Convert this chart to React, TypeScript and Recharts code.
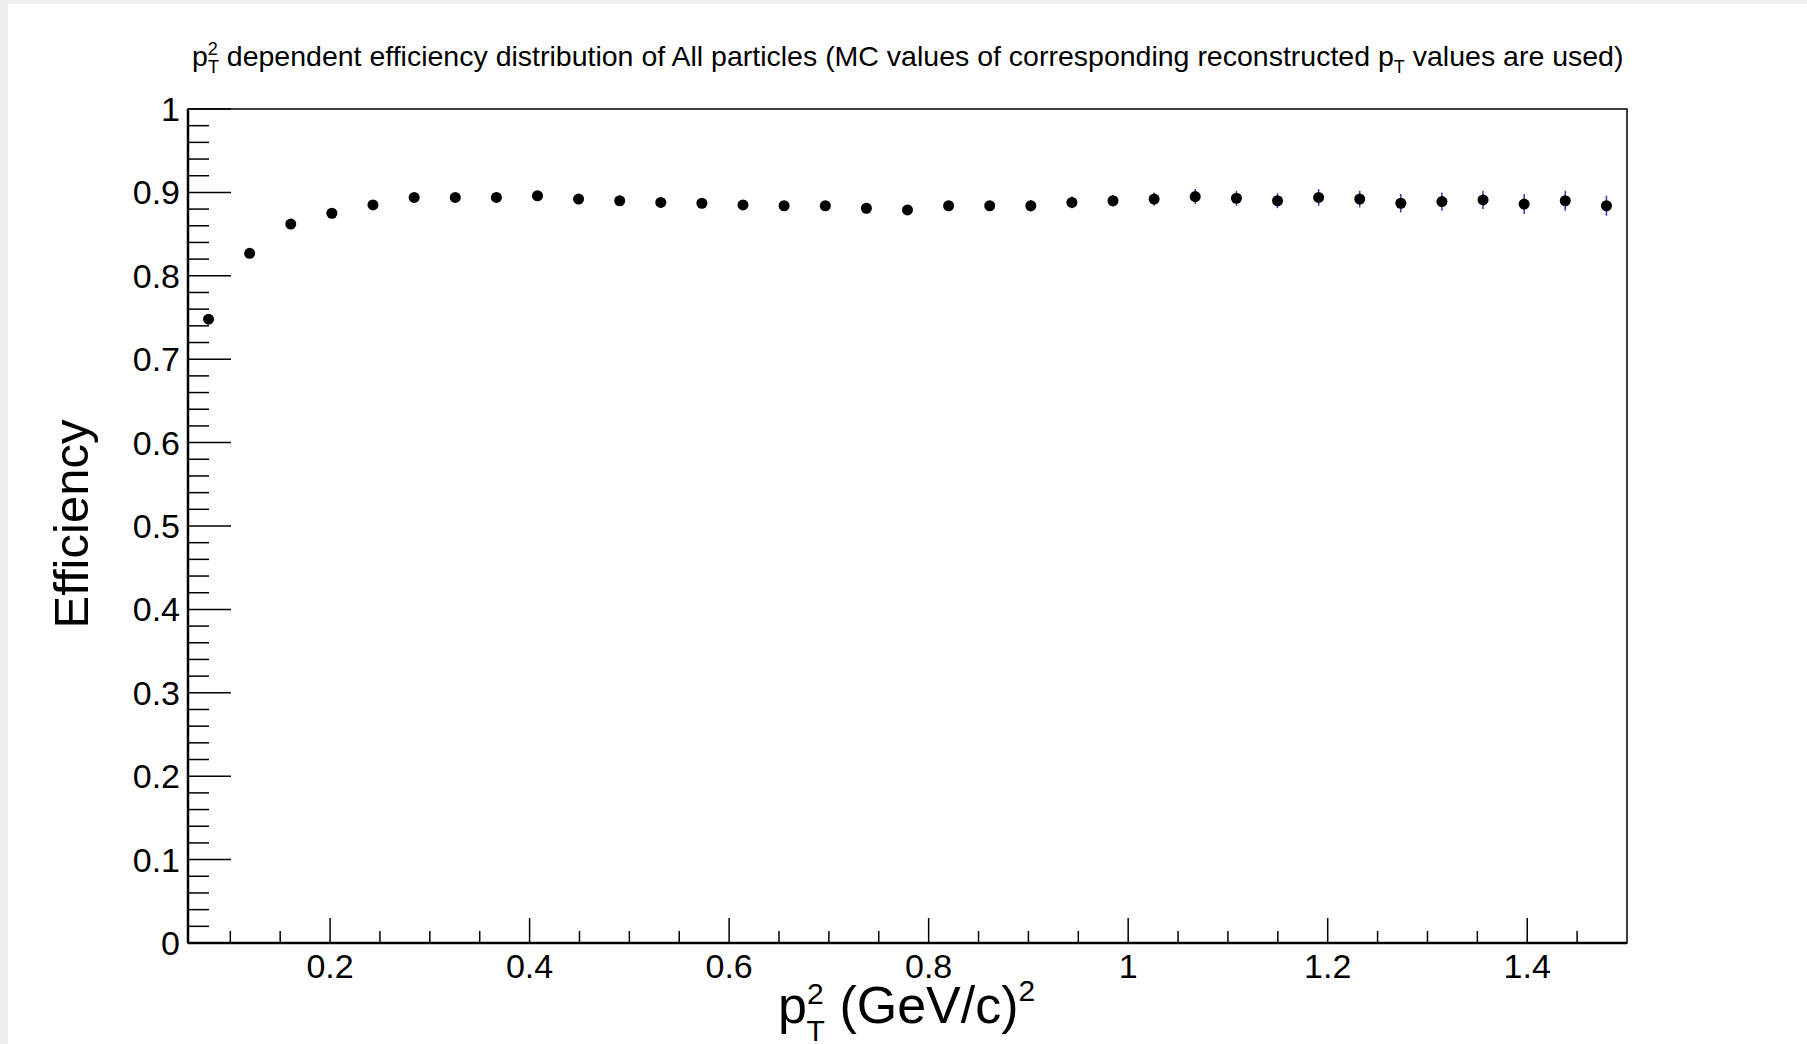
import React from 'react';
import { ScatterChart, Scatter, XAxis, YAxis, ErrorBar, ReferenceArea, Label } from 'recharts';

const binCenters = [
  0.0782, 0.1194, 0.1606, 0.2018, 0.2430, 0.2843, 0.3255, 0.3667, 0.4079, 0.4491,
  0.4903, 0.5315, 0.5727, 0.6139, 0.6551, 0.6964, 0.7376, 0.7788, 0.8200, 0.8612,
  0.9024, 0.9436, 0.9848, 1.0260, 1.0672, 1.1085, 1.1497, 1.1909, 1.2321, 1.2733,
  1.3145, 1.3557, 1.3969, 1.4381, 1.4794,
];
const efficiency = [
  0.748, 0.827, 0.862, 0.875, 0.885, 0.894, 0.894, 0.894, 0.896, 0.892,
  0.890, 0.888, 0.887, 0.885, 0.884, 0.884, 0.881, 0.879, 0.884, 0.884,
  0.884, 0.888, 0.890, 0.892, 0.895, 0.893, 0.890, 0.894, 0.892, 0.887,
  0.889, 0.891, 0.886, 0.890, 0.884,
];
const efficiencyErr = [
  0.002, 0.002, 0.002, 0.003, 0.003, 0.003, 0.003, 0.004, 0.004, 0.004,
  0.004, 0.005, 0.005, 0.005, 0.005, 0.005, 0.006, 0.006, 0.006, 0.006,
  0.007, 0.007, 0.007, 0.008, 0.009, 0.009, 0.009, 0.010, 0.010, 0.011,
  0.011, 0.011, 0.012, 0.012, 0.012,
];
const xDomain = [0.0576, 1.5];
const yDomain = [0, 1];
const xTickValues = [
  0.1, 0.15, 0.2, 0.25, 0.3, 0.35, 0.4, 0.45, 0.5, 0.55, 0.6, 0.65, 0.7, 0.75,
  0.8, 0.85, 0.9, 0.95, 1.0, 1.05, 1.1, 1.15, 1.2, 1.25, 1.3, 1.35, 1.4, 1.45,
];
const xMajorTicks = [0.2, 0.4, 0.6, 0.8, 1.0, 1.2, 1.4];
const xMajorLabels = ['0.2', '0.4', '0.6', '0.8', '1', '1.2', '1.4'];
const yTickValues = [
  0, 0.02, 0.04, 0.06, 0.08, 0.1, 0.12, 0.14, 0.16, 0.18, 0.2, 0.22, 0.24, 0.26,
  0.28, 0.3, 0.32, 0.34, 0.36, 0.38, 0.4, 0.42, 0.44, 0.46, 0.48, 0.5, 0.52, 0.54,
  0.56, 0.58, 0.6, 0.62, 0.64, 0.66, 0.68, 0.7, 0.72, 0.74, 0.76, 0.78, 0.8, 0.82,
  0.84, 0.86, 0.88, 0.9, 0.92, 0.94, 0.96, 0.98, 1,
];
const yMajorTicks = [0, 0.1, 0.2, 0.3, 0.4, 0.5, 0.6, 0.7, 0.8, 0.9, 1];
const yMajorLabels = ['0', '0.1', '0.2', '0.3', '0.4', '0.5', '0.6', '0.7', '0.8', '0.9', '1'];

const data = binCenters.map((x, i) => ({ x, y: efficiency[i], err: efficiencyErr[i] }));

const FONT = '"Liberation Sans", Arial, Helvetica, sans-serif';
const TICK_FONT = 34;

const findMajor = (v: number, majors: number[]) => majors.findIndex((m) => Math.abs(m - v) < 1e-6);

const YTick = (props: any) => {
  const { x, y, payload } = props;
  const idx = findMajor(payload.value, yMajorTicks);
  const len = idx >= 0 ? 43 : 21;
  return (
    <g>
      <line x1={x} x2={x + len} y1={y} y2={y} stroke="#000" strokeWidth={1.5} />
      {idx >= 0 && (
        <text x={x - 8} y={y} textAnchor="end" dominantBaseline="central" fontSize={TICK_FONT} fontFamily={FONT} fill="#000">
          {yMajorLabels[idx]}
        </text>
      )}
    </g>
  );
};

const XTick = (props: any) => {
  const { x, y, payload } = props;
  const idx = findMajor(payload.value, xMajorTicks);
  const len = idx >= 0 ? 25 : 12;
  return (
    <g>
      <line x1={x} x2={x} y1={y} y2={y - len} stroke="#000" strokeWidth={1.5} />
      {idx >= 0 && (
        <text x={x} y={y + 35} textAnchor="middle" fontSize={TICK_FONT} fontFamily={FONT} fill="#000">
          {xMajorLabels[idx]}
        </text>
      )}
    </g>
  );
};

const Marker = (props: any) => {
  const { cx, cy } = props;
  return <circle cx={cx} cy={cy} r={5.5} fill="#000" />;
};

const YTitle = (props: any) => {
  const vb = props.viewBox || {};
  const cx = vb.x + vb.width - 100;
  const cy = vb.y + vb.height / 2 - 2;
  return (
    <text
      x={cx}
      y={cy}
      transform={`rotate(-90 ${cx} ${cy})`}
      textAnchor="middle"
      fontSize={49}
      fontFamily={FONT}
      fill="#000"
    >
      Efficiency
    </text>
  );
};

const XTitle = (props: any) => {
  const vb = props.viewBox || {};
  const x0 = vb.x + 590;
  const y0 = vb.y + 80;
  return (
    <text x={x0} y={y0} fontSize={52} fontFamily={FONT} fill="#000">
      <tspan>p</tspan>
      <tspan fontSize={30} dy={-19}>2</tspan>
      <tspan fontSize={30} dx={-17} dy={37}>T</tspan>
      <tspan dy={-18}>{' (GeV/c)'}</tspan>
      <tspan fontSize={30} dy={-22}>2</tspan>
    </text>
  );
};

export default function App() {
  return (
    <div style={{ position: 'fixed', left: 0, top: 0, width: 1807, height: 1044, background: '#efefef', overflow: 'hidden' }}>
      <div style={{ position: 'absolute', left: 8, top: 4, width: 1799, height: 1040, background: '#fff' }} />
      <svg style={{ position: 'absolute', left: 0, top: 0 }} width={1807} height={110}>
        <text x={192} y={66} fontSize={28.5} fontFamily={FONT} fill="#000">
          <tspan>p</tspan>
          <tspan fontSize={18} dy={-11}>2</tspan>
          <tspan fontSize={18} dx={-10} dy={18}>T</tspan>
          <tspan dy={-7}>{' dependent efficiency distribution of All particles (MC values of corresponding reconstructed p'}</tspan>
          <tspan fontSize={18} dy={7}>T</tspan>
          <tspan dy={-7}>{'  values are used)'}</tspan>
        </text>
      </svg>
      <div style={{ position: 'absolute', left: 0, top: 0 }}>
        <ScatterChart width={1807} height={1044} margin={{ top: 109, right: 180, bottom: 41, left: 128 }}>
          <XAxis
            type="number"
            dataKey="x"
            domain={xDomain}
            allowDataOverflow
            ticks={xTickValues}
            interval={0}
            height={60}
            tickSize={0}
            tickMargin={0}
            tick={<XTick />}
            tickLine={false}
            axisLine={{ stroke: '#000', strokeWidth: 2.5 }}
          >
            <Label content={<XTitle />} />
          </XAxis>
          <YAxis
            type="number"
            dataKey="y"
            domain={yDomain}
            allowDataOverflow
            ticks={yTickValues}
            interval={0}
            width={60}
            tickSize={0}
            tickMargin={0}
            tick={<YTick />}
            tickLine={false}
            axisLine={{ stroke: '#000', strokeWidth: 2.5 }}
          >
            <Label content={<YTitle />} />
          </YAxis>
          <ReferenceArea x1={xDomain[0]} x2={xDomain[1]} y1={yDomain[0]} y2={yDomain[1]} fill="none" stroke="#000" strokeWidth={1.5} />
          <Scatter data={data} shape={<Marker />} isAnimationActive={false}>
            <ErrorBar dataKey="err" direction="y" width={0} stroke="#3636c8" strokeWidth={1.5} />
          </Scatter>
        </ScatterChart>
      </div>
    </div>
  );
}
